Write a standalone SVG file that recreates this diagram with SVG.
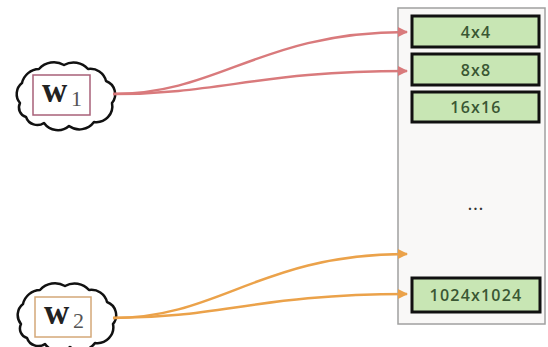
<svg xmlns="http://www.w3.org/2000/svg" width="548" height="347" viewBox="0 0 548 347">
<style>
.cloud{fill:#ffffff;stroke:#111;stroke-width:2.5;stroke-linejoin:round}
.box{fill:#c8e6b4;stroke:#111;stroke-width:3}
.lbl{font-family:"Open Sans","DejaVu Sans",sans-serif;font-size:16px;font-weight:600;letter-spacing:1.2px;fill:#3a5733;text-anchor:middle}
.w{font-family:"Liberation Serif",serif;font-weight:bold;font-size:35px;fill:#222}
.sub{font-family:"Liberation Serif",serif;font-size:22px;fill:#555}
.red{fill:none;stroke:#d97a7c;stroke-width:2.5}
.org{fill:none;stroke:#eba24a;stroke-width:2.5}
</style>
<defs>
<path id="cloudShape" d="M-44,8 A14,14 0 0 1 -42,-12 A18,18 0 0 1 -25,-26 A20,20 0 0 1 0,-30 A19,19 0 0 1 24,-26 A16,16 0 0 1 42,-14 A14,14 0 0 1 48,8 A16,16 0 0 1 30,27 A18,18 0 0 1 5,31 A17,17 0 0 1 -20,28 A12,12 0 0 1 -38,22 A10,10 0 0 1 -44,8 Z"/>
<marker id="ar" viewBox="0 0 10 10" refX="9" refY="5" markerWidth="4" markerHeight="4" orient="auto" markerUnits="strokeWidth"><path d="M0,0 L10,5 L0,10 Z" fill="#d97a7c"/></marker>
<marker id="ao" viewBox="0 0 10 10" refX="9" refY="5" markerWidth="4" markerHeight="4" orient="auto" markerUnits="strokeWidth"><path d="M0,0 L10,5 L0,10 Z" fill="#eba24a"/></marker>
</defs>
<g id="panel">
<rect x="398" y="8" width="147" height="316" fill="#f9f8f7" stroke="#a0a0a0" stroke-width="1.5"/>
</g>
<g id="box4">
<rect class="box" x="412" y="16" width="127" height="31"/>
<text class="lbl" x="476" y="38">4x4</text>
</g>
<g id="box8">
<rect class="box" x="412" y="54" width="127" height="31"/>
<text class="lbl" x="476" y="76">8x8</text>
</g>
<g id="box16">
<rect class="box" x="412" y="92" width="127" height="30"/>
<text class="lbl" x="476" y="113">16x16</text>
</g>
<g id="dots">
<text class="lbl" x="476" y="210" style="fill:#333">...</text>
</g>
<g id="box1024">
<rect class="box" x="412" y="278" width="128" height="34"/>
<text class="lbl" x="476" y="301">1024x1024</text>
</g>
<g id="w1">
<use href="#cloudShape" class="cloud" transform="translate(64,95)"/>
<rect x="33" y="75" width="57" height="40" fill="#fff" stroke="#a86078" stroke-width="1.5"/>
<text class="w" x="42" y="102">w</text>
<text class="sub" x="71" y="106">1</text>
</g>
<g id="w2">
<use href="#cloudShape" class="cloud" transform="translate(65,316)"/>
<rect x="35" y="297" width="56" height="40" fill="#fff" stroke="#d4a878" stroke-width="1.5"/>
<text class="w" x="44" y="324">w</text>
<text class="sub" x="73" y="328">2</text>
</g>
<g id="connectors">
<path class="red" d="M113,94 C220,94 260,32 407,32" marker-end="url(#ar)"/>
<path class="red" d="M113,94 C220,94 260,71 407,71" marker-end="url(#ar)"/>
<path class="org" d="M113,318 C220,318 260,254 407,254" marker-end="url(#ao)"/>
<path class="org" d="M113,318 C220,318 260,294 407,294" marker-end="url(#ao)"/>
</g>
</svg>
